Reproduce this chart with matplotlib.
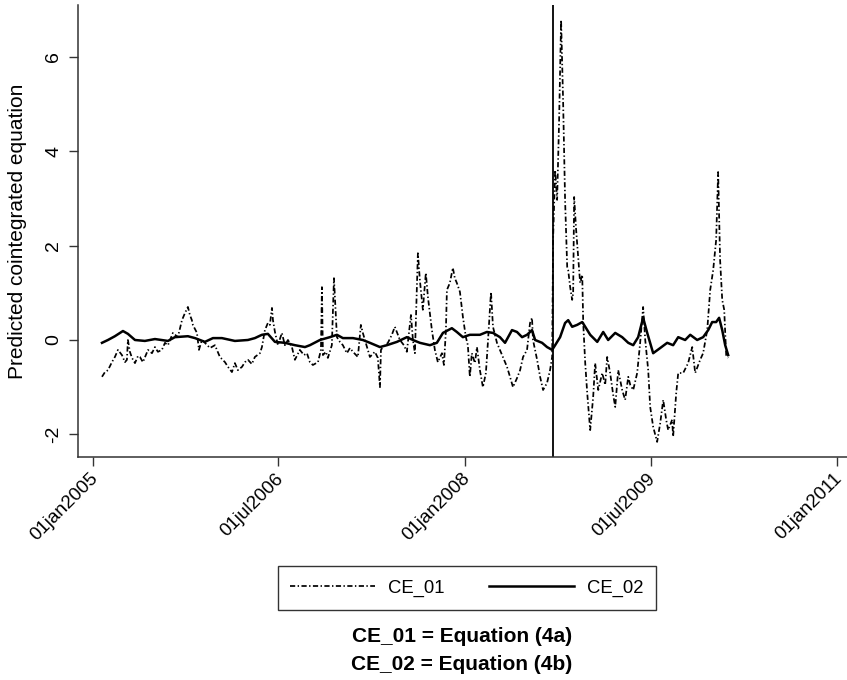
import matplotlib
matplotlib.use("Agg")
import matplotlib.pyplot as plt
import matplotlib.transforms as mtransforms
from datetime import datetime, timedelta

plt.rcParams['font.family'] = ['Liberation Sans', 'DejaVu Sans']

# ---- data (decimal years, values) ----
ce02_t = [2005.073, 2005.121, 2005.177, 2005.242, 2005.282, 2005.339, 2005.419, 2005.500,
          2005.605, 2005.661, 2005.766, 2005.823, 2005.903, 2005.968, 2006.040, 2006.145,
          2006.250, 2006.306, 2006.363, 2006.411, 2006.468, 2006.548, 2006.629, 2006.710,
          2006.750, 2006.831, 2006.911, 2006.968, 2007.016, 2007.097, 2007.177, 2007.234,
          2007.315, 2007.371, 2007.452, 2007.532, 2007.581, 2007.637, 2007.718, 2007.774,
          2007.823, 2007.895, 2007.935, 2007.984, 2008.040, 2008.121, 2008.177, 2008.226,
          2008.282, 2008.323, 2008.379, 2008.419, 2008.460, 2008.500, 2008.540, 2008.565,
          2008.621, 2008.661, 2008.702, 2008.726, 2008.766, 2008.806, 2008.831, 2008.863,
          2008.903, 2008.944, 2008.968, 2009.008, 2009.065, 2009.113, 2009.153, 2009.210,
          2009.266, 2009.315, 2009.355, 2009.395, 2009.435, 2009.468, 2009.516, 2009.573,
          2009.629, 2009.677, 2009.718, 2009.774, 2009.815, 2009.871, 2009.919, 2009.960,
          2009.992, 2010.024, 2010.048, 2010.073, 2010.097, 2010.121]
ce02_v = [-0.06, 0.00, 0.08, 0.19, 0.13, 0.00, -0.02, 0.02,
          -0.02, 0.06, 0.08, 0.04, -0.04, 0.04, 0.04, -0.02,
          0.00, 0.04, 0.11, 0.13, -0.04, -0.06, -0.11, -0.15,
          -0.11, 0.00, 0.06, 0.11, 0.04, 0.04, 0.00, -0.06,
          -0.15, -0.11, -0.04, 0.06, 0.00, -0.06, -0.11, -0.06,
          0.15, 0.25, 0.17, 0.06, 0.11, 0.11, 0.17, 0.15,
          0.06, -0.06, 0.21, 0.17, 0.06, 0.11, 0.21, 0.00,
          -0.06, -0.15, -0.21, -0.11, 0.06, 0.36, 0.42, 0.28,
          0.32, 0.38, 0.28, 0.11, -0.04, 0.17, 0.00, 0.15,
          0.06, -0.06, -0.11, 0.06, 0.47, 0.15, -0.28, -0.17,
          -0.06, -0.11, 0.06, 0.00, 0.11, 0.00, 0.06, 0.21,
          0.38, 0.38, 0.47, 0.21, -0.11, -0.32]

ce01_t = [2005.073, 2005.097, 2005.121, 2005.153, 2005.177, 2005.202, 2005.234, 2005.258,
          2005.274, 2005.282, 2005.298, 2005.315, 2005.339, 2005.363, 2005.379, 2005.403,
          2005.444, 2005.476, 2005.500, 2005.524, 2005.556, 2005.581, 2005.605, 2005.645,
          2005.685, 2005.718, 2005.742, 2005.766, 2005.782, 2005.798, 2005.806, 2005.839,
          2005.855, 2005.879, 2005.903, 2005.944, 2005.984, 2006.024, 2006.065, 2006.089,
          2006.121, 2006.145, 2006.169, 2006.202, 2006.226, 2006.250, 2006.282, 2006.306,
          2006.347, 2006.363, 2006.387, 2006.411, 2006.427, 2006.444, 2006.452, 2006.468,
          2006.492, 2006.524, 2006.548, 2006.573, 2006.605, 2006.629, 2006.669, 2006.702,
          2006.726, 2006.750, 2006.774, 2006.815, 2006.839, 2006.847, 2006.855, 2006.879,
          2006.895, 2006.927, 2006.944, 2006.968, 2006.992, 2007.016, 2007.048, 2007.073,
          2007.097, 2007.137, 2007.161, 2007.177, 2007.210, 2007.234, 2007.274, 2007.298,
          2007.315, 2007.323, 2007.339, 2007.379, 2007.411, 2007.435, 2007.476, 2007.508,
          2007.532, 2007.565, 2007.581, 2007.597, 2007.621, 2007.637, 2007.661, 2007.685,
          2007.702, 2007.734, 2007.758, 2007.782, 2007.815, 2007.831, 2007.847, 2007.855,
          2007.879, 2007.903, 2007.919, 2007.935, 2007.960, 2007.984, 2008.008, 2008.024,
          2008.040, 2008.056, 2008.081, 2008.097, 2008.121, 2008.145, 2008.169, 2008.185,
          2008.210, 2008.226, 2008.258, 2008.282, 2008.306, 2008.339, 2008.363, 2008.387,
          2008.419, 2008.444, 2008.468, 2008.500, 2008.524, 2008.540, 2008.548, 2008.581,
          2008.605, 2008.629, 2008.661, 2008.685, 2008.702, 2008.710, 2008.726, 2008.742,
          2008.758, 2008.774, 2008.782, 2008.790, 2008.806, 2008.823, 2008.831, 2008.847,
          2008.863, 2008.871, 2008.879, 2008.895, 2008.911, 2008.927, 2008.944, 2008.952,
          2008.968, 2008.984, 2009.008, 2009.032, 2009.048, 2009.073, 2009.105, 2009.129,
          2009.145, 2009.169, 2009.194, 2009.210, 2009.234, 2009.266, 2009.290, 2009.315,
          2009.331, 2009.355, 2009.387, 2009.411, 2009.435, 2009.452, 2009.476, 2009.492,
          2009.516, 2009.548, 2009.573, 2009.597, 2009.621, 2009.637, 2009.669, 2009.677,
          2009.702, 2009.718, 2009.758, 2009.798, 2009.831, 2009.855, 2009.895, 2009.919,
          2009.952, 2009.976, 2010.000, 2010.024, 2010.040, 2010.056, 2010.073, 2010.089,
          2010.105, 2010.121]
ce01_v = [-0.78, -0.68, -0.64, -0.47, -0.36, -0.21, -0.32, -0.47,
          -0.42, 0.00, -0.25, -0.38, -0.49, -0.34, -0.36, -0.47,
          -0.21, -0.28, -0.15, -0.25, -0.21, -0.06, -0.11, 0.15,
          0.06, 0.42, 0.57, 0.70, 0.53, 0.42, 0.32, 0.15,
          -0.21, 0.00, -0.06, -0.17, -0.11, -0.36, -0.47, -0.57,
          -0.68, -0.49, -0.64, -0.57, -0.47, -0.42, -0.51, -0.36,
          -0.28, -0.15, 0.21, 0.36, 0.32, 0.68, 0.42, 0.17,
          -0.11, 0.15, -0.11, 0.00, -0.15, -0.42, -0.21, -0.32,
          -0.28, -0.47, -0.53, -0.47, -0.21, 1.12, -0.32, -0.25,
          -0.38, -0.11, 1.31, 0.06, -0.04, -0.11, -0.28, -0.17,
          -0.25, -0.36, 0.32, 0.15, -0.15, -0.36, -0.25, -0.38,
          -1.00, -0.21, -0.15, -0.06, 0.11, 0.28, 0.00, -0.11,
          -0.25, 0.53, 0.00, -0.28, 1.84, 1.27, 0.64, 1.42,
          0.91, 0.21, -0.21, -0.47, -0.28, -0.53, 0.21, 1.06,
          1.21, 1.53, 1.31, 1.21, 1.02, 0.49, 0.06, -0.11,
          -0.78, -0.28, -0.49, -0.15, -0.64, -1.00, -0.70, -0.06,
          1.02, 0.28, -0.06, -0.21, -0.36, -0.57, -0.78, -1.00,
          -0.81, -0.64, -0.36, -0.21, 0.36, 0.47, 0.00, -0.42,
          -0.78, -1.06, -0.91, -0.64, -0.36, 2.18, 3.60, 2.97,
          4.66, 6.78, 5.93, 5.08, 2.97, 1.55, 1.48, 1.12,
          0.85, 1.00, 3.03, 2.33, 1.76, 1.21, 1.38, 0.36,
          -0.49, -1.12, -1.91, -1.21, -0.49, -1.06, -0.70, -0.95,
          -0.36, -0.70, -1.17, -1.42, -0.64, -1.06, -1.27, -0.78,
          -0.95, -1.06, -0.70, -0.06, 0.70, 0.00, -0.64, -1.42,
          -1.84, -2.16, -1.76, -1.27, -1.69, -1.91, -1.69, -2.05,
          -1.12, -0.70, -0.70, -0.49, -0.15, -0.70, -0.42, -0.28,
          0.21, 1.06, 1.48, 2.12, 3.56, 1.69, 0.85, 0.64,
          -0.32, -0.38]

event_date = "2008-09-15"
tick_dates = ["2005-01-01", "2006-07-01", "2008-01-01", "2009-07-01", "2011-01-01"]
tick_labels = ["01jan2005", "01jul2006", "01jan2008", "01jul2009", "01jan2011"]
y_ticks = [-2, 0, 2, 4, 6]
series_names = ["CE_01", "CE_02"]
caption_lines = ["CE_01 = Equation (4a)", "CE_02 = Equation (4b)"]


def to_date(t):
    y = int(t)
    start = datetime(y, 1, 1)
    length = (datetime(y + 1, 1, 1) - start).days
    return start + timedelta(days=(t - y) * length)


d01 = [to_date(t) for t in ce01_t]
d02 = [to_date(t) for t in ce02_t]
tick_dt = [datetime.strptime(d, "%Y-%m-%d") for d in tick_dates]

W, H = 847, 680
fig = plt.figure(figsize=(W / 100, H / 100), dpi=100)
ax = fig.add_axes([78 / W, 1 - 457 / H, (847 - 78) / W, (457 - 5) / H])

l1, = ax.plot(d01, ce01_v, color='black', lw=1.25,
              linestyle=(0, (3.0, 1.4, 0.8, 1.4)), label=series_names[0])
l2, = ax.plot(d02, ce02_v, color='black', lw=1.8, label=series_names[1])
ax.axvline(datetime.strptime(event_date, "%Y-%m-%d"), color='black', lw=1.3)

ax.set_xlim(datetime(2004, 11, 18), datetime(2011, 1, 30))
ax.set_ylim(-2.48, 7.10)

ax.set_xticks(tick_dt)
ax.set_xticklabels([])
offset = mtransforms.ScaledTranslation(-3.5 / 100, -13 / 100, fig.dpi_scale_trans)
for d, lab in zip(tick_dt, tick_labels):
    ax.text(d, 0, lab, transform=ax.get_xaxis_transform() + offset,
            rotation=45, rotation_mode='anchor', ha='right', va='top',
            fontsize=13.5, clip_on=False)

ax.set_yticks(y_ticks)
ax.set_yticklabels([str(v) for v in y_ticks], rotation=90, va='center', fontsize=14)

ax.tick_params(axis='both', direction='out', length=6.5, width=1.0, color='#333333')
ax.tick_params(axis='y', pad=5)

for s in ['top', 'right']:
    ax.spines[s].set_visible(False)
for s in ['left', 'bottom']:
    ax.spines[s].set_linewidth(1.1)
    ax.spines[s].set_color('#333333')

fig.text(17.5 / W, 1 - 231 / H, "Predicted cointegrated equation", rotation=90,
         ha='center', va='center', fontsize=15)

leg = fig.legend(handles=[l1, l2], labels=series_names, ncol=2,
                 loc='center', bbox_to_anchor=(467 / W, 1 - 588 / H),
                 fontsize=13.3, frameon=True, fancybox=False, edgecolor='black',
                 handlelength=4.6, handletextpad=0.7, columnspacing=2.4,
                 borderpad=0.7, borderaxespad=0)
leg.get_frame().set_linewidth(1.0)

fig.text(462 / W, 1 - 637 / H, caption_lines[0], ha='center', va='center',
         fontsize=15, fontweight='bold')
fig.text(462 / W, 1 - 664 / H, caption_lines[1], ha='center', va='center',
         fontsize=15, fontweight='bold')

fig.savefig("out.png", dpi=100)
